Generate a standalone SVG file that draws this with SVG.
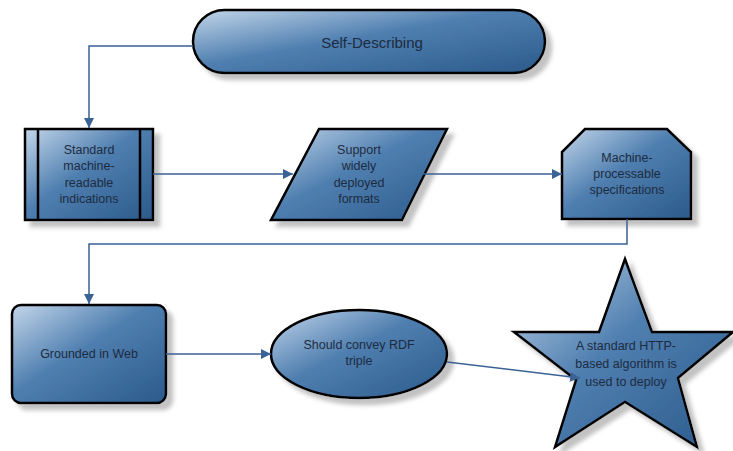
<svg xmlns="http://www.w3.org/2000/svg" width="733" height="451" viewBox="0 0 733 451">
<defs>
<linearGradient id="g" x1="0" y1="0" x2="1" y2="1">
<stop offset="0" stop-color="#c3d6ea"/>
<stop offset="0.45" stop-color="#4f7fb0"/>
<stop offset="1" stop-color="#2b5a8b"/>
</linearGradient>
<filter id="sh" x="-10%" y="-10%" width="130%" height="130%">
<feGaussianBlur in="SourceAlpha" stdDeviation="2"/>
<feOffset dx="6" dy="6" result="o"/>
<feFlood flood-color="#a8a8a8" flood-opacity="0.7"/>
<feComposite in2="o" operator="in"/>
<feMerge><feMergeNode/><feMergeNode in="SourceGraphic"/></feMerge>
</filter>
<marker id="ah" viewBox="0 0 10 10" refX="10" refY="5" markerWidth="10" markerHeight="10" markerUnits="userSpaceOnUse" orient="auto">
<path d="M0,0 L10,5 L0,10 z" fill="#3a6295"/>
</marker>
</defs>
<style>
.s{fill:url(#g);stroke:#000;stroke-width:2.5;filter:url(#sh);stroke-linejoin:miter}
.t{font-family:"Liberation Sans",Arial,sans-serif;font-size:12.5px;fill:#1d2b3f;text-anchor:middle;dominant-baseline:central}
.c{fill:none;stroke:#3a6295;stroke-width:1.5;marker-end:url(#ah)}
</style>
<rect width="733" height="451" fill="#fff"/>
<g id="self-describing">
<rect class="s" x="193" y="10" width="352" height="63" rx="31.5"/>
<text class="t" x="372" y="42" style="font-size:15px">Self-Describing</text>
</g>
<g id="standard">
<rect class="s" x="25" y="129" width="128" height="91"/>
<line x1="38" y1="129" x2="38" y2="220" stroke="#000" stroke-width="2.5"/>
<line x1="140" y1="129" x2="140" y2="220" stroke="#000" stroke-width="2.5"/>
<text class="t" x="89" y="150">Standard</text>
<text class="t" x="89" y="166">machine-</text>
<text class="t" x="89" y="183">readable</text>
<text class="t" x="89" y="199">indications</text>
</g>
<g id="support">
<polygon class="s" points="319,129 447,129 402,220 271,220"/>
<text class="t" x="359" y="150">Support</text>
<text class="t" x="359" y="166">widely</text>
<text class="t" x="359" y="183">deployed</text>
<text class="t" x="359" y="199">formats</text>
</g>
<g id="machine">
<polygon class="s" points="585,129 667,129 691,152 691,219 562,219 562,152"/>
<text class="t" x="627" y="158">Machine-</text>
<text class="t" x="627" y="174">processable</text>
<text class="t" x="627" y="190">specifications</text>
</g>
<g id="grounded">
<rect class="s" x="12" y="305" width="154" height="98" rx="9"/>
<text class="t" x="89" y="354">Grounded in Web</text>
</g>
<g id="rdf">
<ellipse class="s" cx="359" cy="354" rx="88" ry="44"/>
<text class="t" x="359" y="345">Should convey RDF</text>
<text class="t" x="359" y="361">triple</text>
</g>
<g id="http">
<polygon class="s" points="625,259 652,332 733,332 678,378 697,447 625,402 555,447 576,380 514,332 599,332"/>
<text class="t" x="626" y="346">A standard HTTP-</text>
<text class="t" x="626" y="364">based algorithm is</text>
<text class="t" x="626" y="382">used to deploy</text>
</g>
<g id="connectors">
<path class="c" d="M193,46 H89 V128"/>
<path class="c" d="M153,174 H293"/>
<path class="c" d="M423,174 H562"/>
<path class="c" d="M627,219 V244 H89 V304"/>
<path class="c" d="M166,354 H271"/>
<path class="c" d="M447,362 L580,378"/>
</g>
</svg>
